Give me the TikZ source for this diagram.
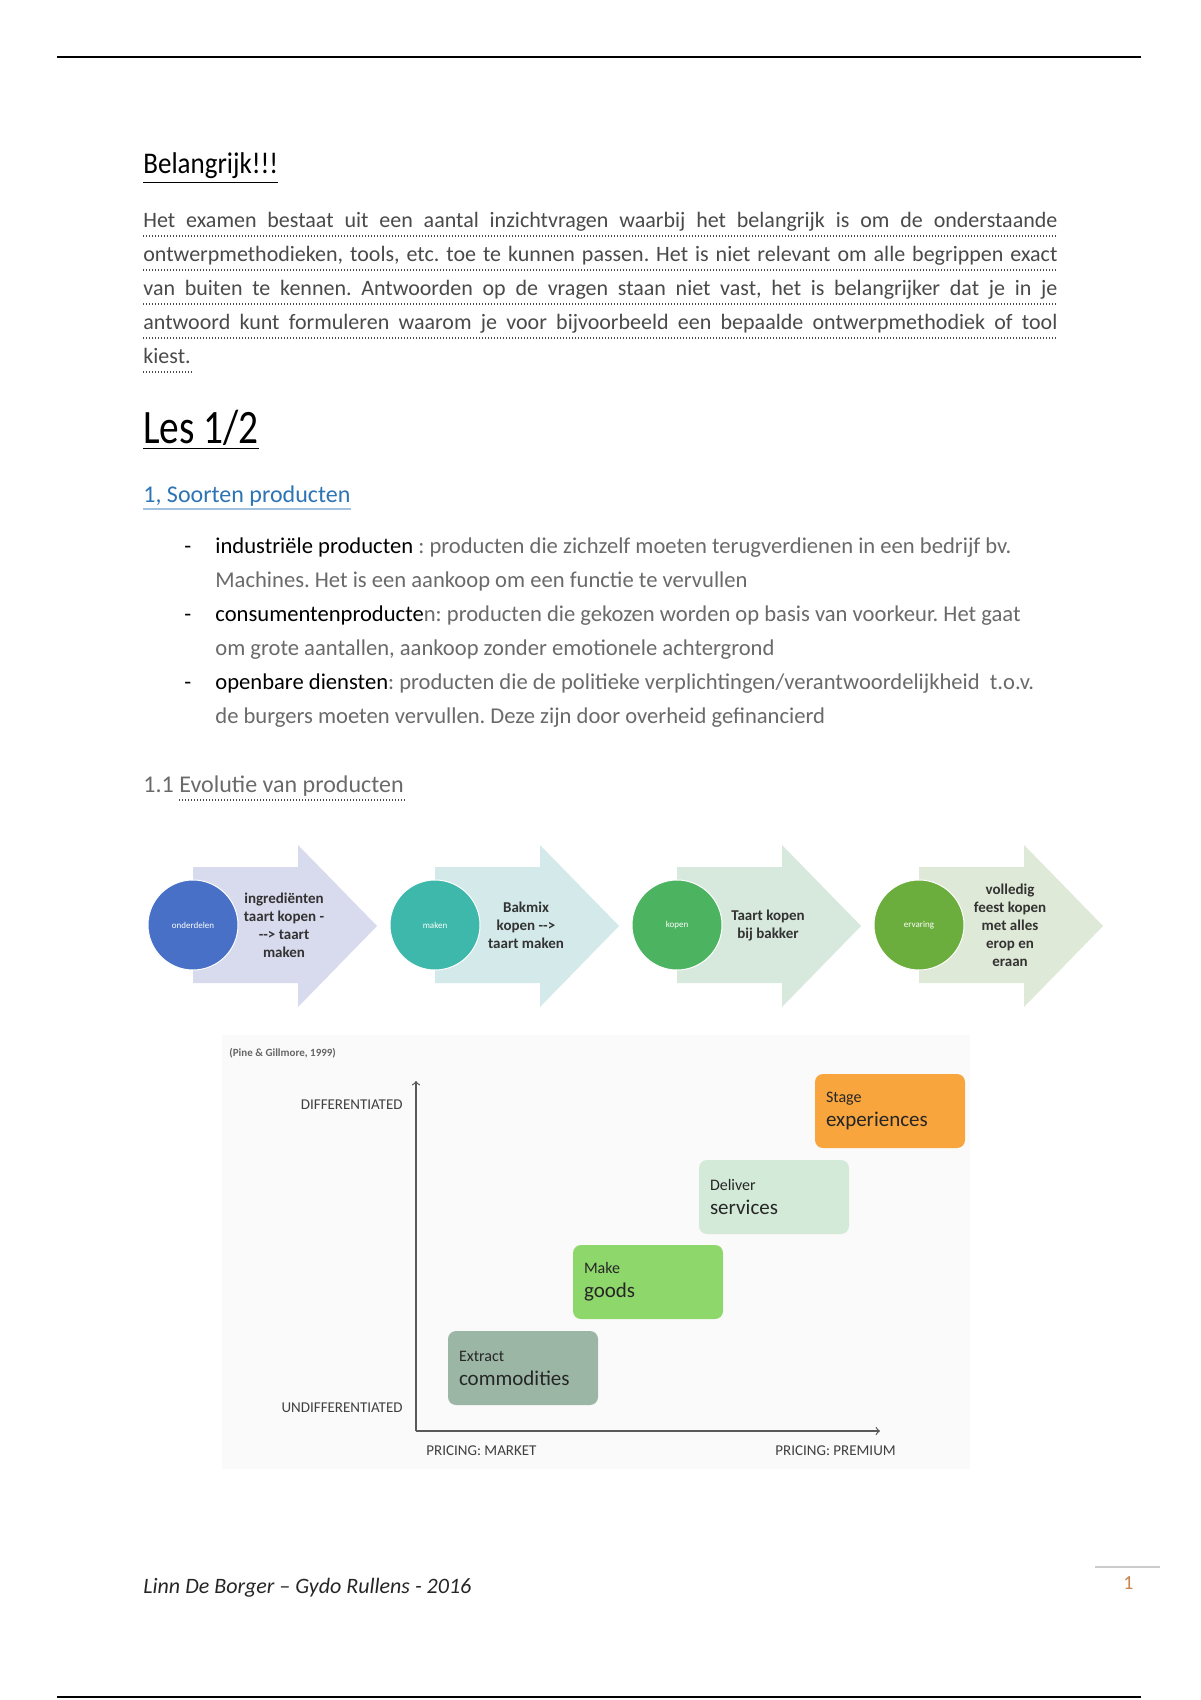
\documentclass[tikz,border=0pt]{standalone}
\usepackage{fontspec}
\setmainfont{Carlito}
\usetikzlibrary{positioning}
\frenchspacing

\definecolor{txtgray}{HTML}{4A4A4A}
\definecolor{softgray}{HTML}{6A6A6A}
\definecolor{linkblue}{HTML}{2E74B5}
\definecolor{arrowA}{HTML}{D8DAEE}
\definecolor{arrowB}{HTML}{D4E9E9}
\definecolor{arrowC}{HTML}{D7E9DD}
\definecolor{arrowD}{HTML}{DFE9D7}
\definecolor{circA}{HTML}{4770C6}
\definecolor{circB}{HTML}{3DB8AA}
\definecolor{circC}{HTML}{4CB360}
\definecolor{circD}{HTML}{6CAE3E}
\definecolor{chartbg}{HTML}{FAFAFA}
\definecolor{stagefill}{HTML}{F8A53E}
\definecolor{deliverfill}{HTML}{D3EAD8}
\definecolor{makefill}{HTML}{8ED76B}
\definecolor{extractfill}{HTML}{9CB6A6}
\definecolor{pagenum}{HTML}{C8844A}

\begin{document}
\begin{tikzpicture}[x=0.5pt, y=-0.5pt]
    \tikzstyle{line} = [anchor=base west, inner sep=0pt, font=\fontsize{11}{13}\selectfont]
    \tikzstyle{bulletline} = [line, font=\fontsize{11.3}{13}\selectfont]
    \tikzstyle{para} = [line, text=txtgray]
    \tikzstyle{dots} = [draw=txtgray, line width=0.6pt, dash pattern=on 0.6pt off 0.9pt]
    \tikzstyle{stepcircle} = [circle, minimum size=45pt, inner sep=0pt, draw=white, line width=0.5pt, text=white, font=\fontsize{4.5}{5}\selectfont]
    \tikzstyle{steptext} = [align=center, inner sep=0pt, font=\bfseries\fontsize{7.5}{9}\selectfont, text=black!80]
    \tikzstyle{stagebox} = [rectangle, rounded corners=4pt, minimum width=75pt, minimum height=37pt, text width=64pt, align=left, inner sep=0pt, text=black!85]
    \tikzstyle{axislabel} = [inner sep=0pt, font=\fontsize{7.5}{9}\selectfont, text=black!75]
    \tikzstyle{axis} = [draw=black!65, line width=0.6pt, ->]

    \useasboundingbox (0,0) rectangle (1200,1700);
    \fill[white] (0,0) rectangle (1200,1700);

    % page rules
    \coordinate (topl) at (57,57);
    \coordinate (topr) at (1141,57);
    \coordinate (botl) at (57,1697);
    \coordinate (botr) at (1141,1697);
    \draw[line width=1pt] (topl) -- (topr);
    \draw[line width=1pt] (botl) -- (botr);

    % intro
    \node (head) [line, font=\fontsize{15}{18}\selectfont] at (143,174) {\scalebox{0.9}[1]{\underline{Belangrijk!!!}}};
    \node (p1) [para] at (143,228) {\makebox[457pt][s]{Het examen bestaat uit een aantal inzichtvragen waarbij het belangrijk is om de onderstaande}};
    \node (p2) [para] at (143,262) {\makebox[457pt][s]{ontwerpmethodieken, tools, etc. toe te kunnen passen. Het is niet relevant om alle begrippen exact}};
    \node (p3) [para] at (143,296) {\makebox[457pt][s]{van buiten te kennen. Antwoorden op de vragen staan niet vast, het is belangrijker dat je in je}};
    \node (p4) [para] at (143,330) {\makebox[457pt][s]{antwoord kunt formuleren waarom je voor bijvoorbeeld een bepaalde ontwerpmethodiek of tool}};
    \node (p5) [para] at (143,364) {kiest.};
    \foreach \yy in {236,270,304,338} {
        \draw[dots] (143,\yy) -- (1057,\yy);
    }
    \draw[dots] (143,372) -- (p5.south east |- 0,372);

    % les
    \node (les) [line, font=\fontsize{24}{28}\selectfont] at (143,444) {\scalebox{0.82}[1]{\underline{Les 1/2}}};
    \node (sec1) [line, font=\fontsize{12}{14}\selectfont, text=linkblue] at (143,502) {1, Soorten producten};
    \draw[linkblue!45, line width=0.6pt] (143,509) -- (sec1.east |- 0,509);

    % bullets
    \foreach \yy in {553,621,689} {
        \node [bulletline, text=black] at (184,\yy) {-};
    }
    \node (b1) [bulletline] at (215,553) {industriële producten \textcolor{softgray}{: producten die zichzelf moeten terugverdienen in een bedrijf bv.}};
    \node (b1b) [bulletline, text=softgray] at (215,587) {Machines. Het is een aankoop om een functie te vervullen};
    \node (b2) [bulletline] at (215,621) {consumentenproducte\textcolor{softgray}{n: producten die gekozen worden op basis van voorkeur. Het gaat}};
    \node (b2b) [bulletline, text=softgray] at (215,655) {om grote aantallen, aankoop zonder emotionele achtergrond};
    \node (b3) [bulletline] at (215,689) {openbare diensten\textcolor{softgray}{: producten die de politieke verplichtingen/verantwoordelijkheid\ \ t.o.v.}};
    \node (b3b) [bulletline, text=softgray] at (215,723) {de burgers moeten vervullen. Deze zijn door overheid gefinancierd};

    \node (sec11) [line, font=\fontsize{12}{14}\selectfont, text=softgray] at (143,792) {1.1};
    \node (evol) [line, font=\fontsize{12}{14}\selectfont, text=softgray] at (179,792) {Evolutie van producten};
    \draw[dots] (179,800) -- (evol.east |- 0,800);

    % evolution arrows
    \foreach \i/\lbl/\afill/\cfill/\txt in {
        0/onderdelen/arrowA/circA/{ingrediënten\\taart kopen -\\-{}-> taart\\maken},
        1/maken/arrowB/circB/{Bakmix\\kopen -{}->\\taart maken},
        2/kopen/arrowC/circC/{Taart kopen\\bij bakker},
        3/ervaring/arrowD/circD/{volledig\\feest kopen\\met alles\\erop en\\eraan}} {
        \pgfmathsetmacro{\xc}{193+242*\i}
        \fill[\afill] (\xc,867) -- (\xc+105,867) -- (\xc+105,845) -- (\xc+184,926) -- (\xc+105,1007) -- (\xc+105,983) -- (\xc,983) -- cycle;
        \node (circ\i) [stepcircle, fill=\cfill] at (\xc,925) {\lbl};
        \node (step\i) [steptext, xshift=45.5pt] at (circ\i) {\txt};
    }

    % pine & gilmore chart
    \fill[chartbg] (222,1035) rectangle (970,1469);
    \node (src) [axislabel, anchor=west, font=\bfseries\fontsize{5.5}{6}\selectfont, text=black!60] at (229,1053) {(Pine \& Gillmore, 1999)};
    \coordinate (origin) at (416,1431);
    \coordinate (ytop) at (416,1081);
    \coordinate (xend) at (880,1431);
    \draw[axis] (origin) -- (ytop);
    \draw[axis] (origin) -- (xend);

    \node (diff) [axislabel, anchor=east] at (403,1105) {DIFFERENTIATED};
    \node (undiff) [axislabel, anchor=east] at (403,1408) {UNDIFFERENTIATED};
    \node (market) [axislabel, anchor=west] at (426,1451) {PRICING: MARKET};
    \node (premium) [axislabel, anchor=west] at (775,1451) {PRICING: PREMIUM};

    \node (extract) [stagebox, fill=extractfill] at (523,1368) {{\fontsize{8}{10}\selectfont Extract}\\{\fontsize{10.5}{13}\selectfont commodities}};
    \node (make) [stagebox, fill=makefill] at (648,1282) {{\fontsize{8}{10}\selectfont Make}\\{\fontsize{10.5}{13}\selectfont goods}};
    \node (deliver) [stagebox, fill=deliverfill] at (774,1197) {{\fontsize{8}{10}\selectfont Deliver}\\{\fontsize{10.5}{13}\selectfont services}};
    \node (stage) [stagebox, fill=stagefill] at (890,1111) {{\fontsize{8}{10}\selectfont Stage}\\{\fontsize{10.5}{13}\selectfont experiences}};

    % footer
    \node (footer) [line, font=\itshape\fontsize{11}{13}\selectfont, text=black!85] at (143,1593) {Linn De Borger -- Gydo Rullens - 2016};
    \coordinate (pgl) at (1095,1567);
    \coordinate (pgr) at (1160,1567);
    \draw[black!20, line width=1pt] (pgl) -- (pgr);
    \node (pageno) [line, font=\fontsize{10}{12}\selectfont, text=pagenum] at (1123,1589) {1};
\end{tikzpicture}
\end{document}
